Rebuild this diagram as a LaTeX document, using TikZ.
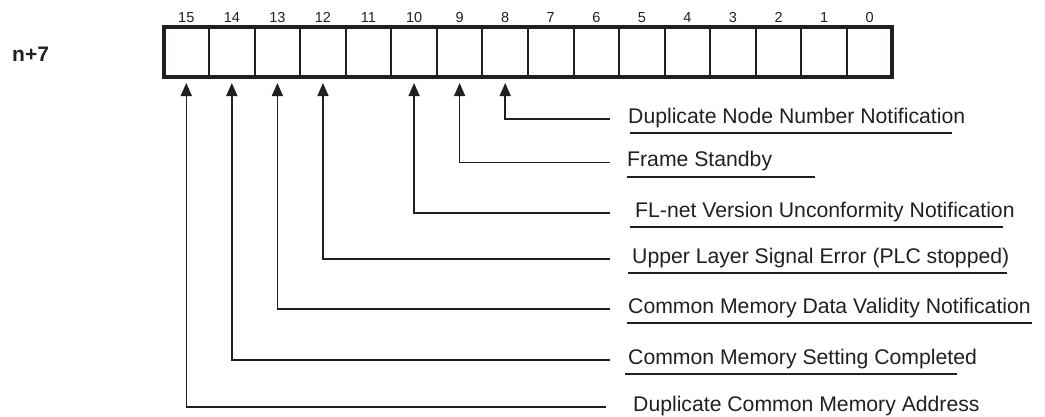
\documentclass[tikz,border=0pt]{standalone}
\usepackage{fontspec}
\setmainfont{Liberation Sans}
\usetikzlibrary{arrows.meta,positioning}
\definecolor{ink}{RGB}{35,31,32}
\tikzset{
  >={Triangle[length=13pt,width=11pt]},
  cell/.style={draw=ink,line width=2pt,minimum width=45.56pt,minimum height=50pt,
    inner sep=0pt,outer sep=0pt},
  bitno/.style={font=\fontsize{14.5}{16}\selectfont,text=ink,inner sep=0pt,anchor=base},
  regname/.style={font=\fontsize{21}{24}\selectfont\bfseries,text=ink,anchor=base west,inner sep=0pt},
  tag/.style={font=\fontsize{21.2}{24}\selectfont,text=ink,anchor=base west,inner sep=0pt},
  sig/.style={->,draw=ink,line width=1.5pt},
  uline/.style={draw=ink,line width=2pt},
}
\begin{document}
\begin{tikzpicture}[x=1pt,y=-1pt]
  \useasboundingbox (0,0) rectangle (1045,416);
  \node[regname] (reg) at (12,61) {n+7};
  % register cells, bit 15 on the left
  \foreach \i in {0,...,15} {
    \node[cell] (b\i) at ({186.28+45.56*(15-\i)},52) {};
    \node[bitno] (n\i) at ([yshift=5pt]b\i.north) {\i};
  }
  \draw[draw=ink,line width=4pt] (b15.north west) rectangle (b0.south east);
  % flags
  \foreach \b/\y/\tx/\ua/\ub/\txt in {
      8/119/628/630/952/{Duplicate Node Number Notification},
      9/162.5/627/627/815/{Frame Standby},
      10/213/635/630/1003/{FL-net Version Unconformity Notification},
      12/259/632/628/1007/{Upper Layer Signal Error (PLC stopped)},
      13/309/628/627/1032/{Common Memory Data Validity Notification},
      14/360/628/625/957/{Common Memory Setting Completed}} {
    \node[tag] (t\b) at (\tx,\y+4) {\txt};
    \coordinate (e\b) at (610,\y);
    \draw[sig] (e\b) -| ([yshift=-6pt]b\b.south);
    \draw[uline] (\ua,\y+14) -- (\ub,\y+14);
  }
  \node[tag] (t15) at (633,411) {Duplicate Common Memory Address};
  \coordinate (e15) at (606,407);
  \draw[sig] (e15) -| ([yshift=-6pt]b15.south);
\end{tikzpicture}
\end{document}
